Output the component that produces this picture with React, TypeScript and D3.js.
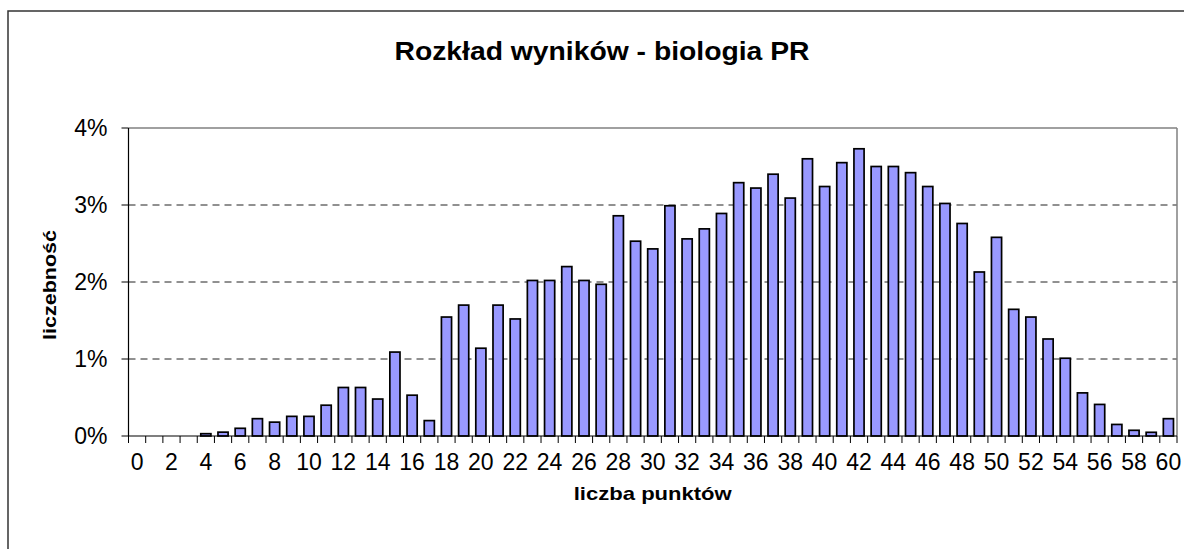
import * as d3 from "d3";
import { useEffect, useRef } from "react";

// punkty 0..60, udział procentowy wyników
const categories: number[] = d3.range(0, 61);
const values: number[] = [
  0, 0, 0, 0, 0.03, 0.05, 0.1, 0.225, 0.18, 0.255,
  0.255, 0.4, 0.63, 0.63, 0.48, 1.09, 0.53, 0.2, 1.545, 1.7,
  1.14, 1.7, 1.52, 2.02, 2.02, 2.2, 2.02, 1.97, 2.86, 2.53,
  2.43, 2.99, 2.56, 2.69, 2.89, 3.29, 3.22, 3.4, 3.09, 3.6,
  3.24, 3.55, 3.73, 3.5, 3.5, 3.42, 3.24, 3.02, 2.76, 2.13,
  2.58, 1.645, 1.545, 1.26, 1.01, 0.56, 0.41, 0.15, 0.074, 0.048,
  0.225,
];
const yTicks: number[] = [0, 1, 2, 3, 4];
const xLabels: number[] = d3.range(0, 61, 2);

const title = "Rozkład wyników - biologia PR";
const yTitle = "liczebność";
const xTitle = "liczba punktów";

export default function App() {
  const ref = useRef<SVGSVGElement>(null);

  useEffect(() => {
    const svg = d3.select(ref.current);
    svg.selectAll("*").remove();

    const left = 128.5, right = 1177, top = 128, bottom = 436;
    const font = "'Liberation Sans', Arial, sans-serif";

    // ramka wykresu
    svg.append("rect")
      .attr("x", 8).attr("y", 11).attr("width", 1300).attr("height", 700)
      .attr("fill", "white").attr("stroke", "#333").attr("stroke-width", 1.5);

    const x = d3.scaleBand<number>().domain(categories).range([left, right]).paddingInner(0.41).paddingOuter(0.205);
    const xb = d3.scaleBand<number>().domain(categories).range([left, right]);
    const y = d3.scaleLinear().domain([0, 4]).range([bottom, top]);

    // linie siatki
    svg.selectAll(".grid").data(yTicks.filter(t => t > 0 && t < 4)).enter().append("line")
      .attr("x1", left).attr("x2", right)
      .attr("y1", d => y(d)).attr("y2", d => y(d))
      .attr("stroke", "#222").attr("stroke-width", 1).attr("stroke-dasharray", "7,5");

    // obramowanie obszaru
    svg.append("line").attr("x1", left).attr("x2", right).attr("y1", top).attr("y2", top)
      .attr("stroke", "#808080").attr("stroke-width", 1.5);
    svg.append("line").attr("x1", right).attr("x2", right).attr("y1", top).attr("y2", bottom)
      .attr("stroke", "#808080").attr("stroke-width", 1.5);

    // słupki
    svg.selectAll(".bar").data(values).enter().append("rect")
      .attr("x", (d, i) => x(categories[i])!)
      .attr("width", x.bandwidth())
      .attr("y", d => y(d))
      .attr("height", d => bottom - y(d))
      .attr("fill", "#9999FF")
      .attr("stroke", d => d > 0 ? "black" : "none")
      .attr("stroke-width", 1.7);

    // osie
    svg.append("line").attr("x1", left).attr("x2", right).attr("y1", bottom).attr("y2", bottom)
      .attr("stroke", "black").attr("stroke-width", 1.2);
    svg.append("line").attr("x1", left).attr("x2", left).attr("y1", top).attr("y2", bottom)
      .attr("stroke", "black").attr("stroke-width", 1.2);

    svg.selectAll(".ytick").data(yTicks).enter().append("line")
      .attr("x1", left - 7).attr("x2", left)
      .attr("y1", d => y(d)).attr("y2", d => y(d))
      .attr("stroke", "black");
    svg.selectAll(".ylab").data(yTicks).enter().append("text")
      .attr("x", left - 21).attr("y", d => y(d) + 8)
      .attr("text-anchor", "end")
      .style("font", `23px ${font}`)
      .text(d => d + "%");

    const bounds = categories.map(c => xb(c)!).concat([right]);
    svg.selectAll(".xtick").data(bounds).enter().append("line")
      .attr("x1", d => d).attr("x2", d => d)
      .attr("y1", bottom).attr("y2", bottom + 7)
      .attr("stroke", "black");
    svg.selectAll(".xlab").data(xLabels).enter().append("text")
      .attr("x", d => xb(d)! + xb.bandwidth() / 2)
      .attr("y", 469.5)
      .attr("text-anchor", "middle")
      .style("font", `23px ${font}`)
      .text(d => d);

    // tytuły
    svg.append("text")
      .attr("x", 602).attr("y", 59.5)
      .attr("text-anchor", "middle")
      .attr("textLength", 415).attr("lengthAdjust", "spacingAndGlyphs")
      .style("font", `bold 25px ${font}`)
      .text(title);
    svg.append("text")
      .attr("transform", "translate(56,285) rotate(-90)")
      .attr("text-anchor", "middle")
      .attr("textLength", 110).attr("lengthAdjust", "spacingAndGlyphs")
      .style("font", `bold 19px ${font}`)
      .text(yTitle);
    svg.append("text")
      .attr("x", (left + right) / 2).attr("y", 500)
      .attr("text-anchor", "middle")
      .attr("textLength", 158).attr("lengthAdjust", "spacingAndGlyphs")
      .style("font", `bold 19px ${font}`)
      .text(xTitle);
  }, []);

  return (
    <svg ref={ref} width={1184} height={549}
      style={{ position: "absolute", left: 0, top: 0, background: "white" }} />
  );
}
